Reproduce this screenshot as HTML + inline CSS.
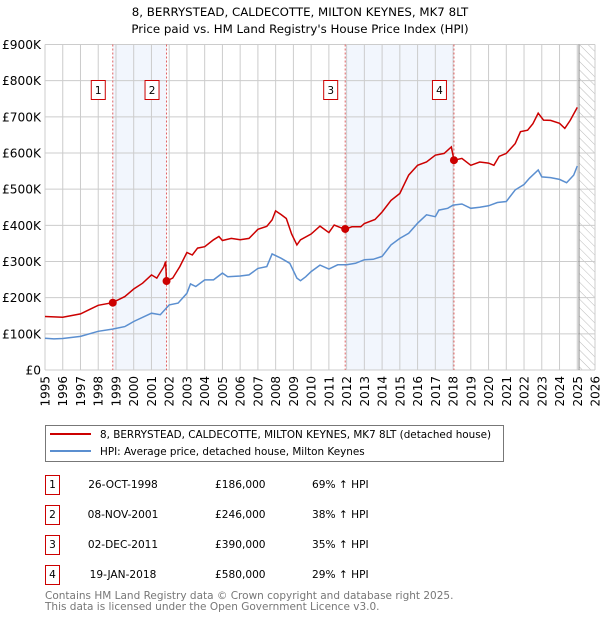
<!DOCTYPE html>
<html><head><meta charset="utf-8"><style>
body{margin:0;background:#fff;font-family:"Liberation Sans","DejaVu Sans",sans-serif;}
svg text{font-family:"DejaVu Sans","Liberation Sans",sans-serif;}
</style></head><body>
<svg id="c" width="600" height="620" xmlns="http://www.w3.org/2000/svg">
<defs><pattern id="hatch" width="6" height="6" patternUnits="userSpaceOnUse" patternTransform="rotate(-45)"><line x1="0" y1="0" x2="0" y2="6" stroke="#bbb" stroke-width="1"/></pattern></defs>
<text x="300" y="16" text-anchor="middle" font-size="11.8">8, BERRYSTEAD, CALDECOTTE, MILTON KEYNES, MK7 8LT</text>
<text x="300" y="33" text-anchor="middle" font-size="11.8">Price paid vs. HM Land Registry's House Price Index (HPI)</text>
<g id="grid"></g><g id="marks"></g><g id="axes"></g>
<g>
<rect x="45.5" y="425.5" width="458" height="36" fill="#fff" stroke="#777"/>
<line x1="50" y1="434" x2="91" y2="434" stroke="#cc0000" stroke-width="2"/>
<text x="100" y="438" font-size="10.4">8, BERRYSTEAD, CALDECOTTE, MILTON KEYNES, MK7 8LT (detached house)</text>
<line x1="50" y1="451" x2="91" y2="451" stroke="#5b8fd0" stroke-width="2"/>
<text x="100" y="455" font-size="10.4">HPI: Average price, detached house, Milton Keynes</text>
</g>
<g id="table" font-size="10.6"></g>
<text x="45" y="599" font-size="10.5" fill="#777">Contains HM Land Registry data © Crown copyright and database right 2025.</text>
<text x="45" y="610" font-size="10.5" fill="#777">This data is licensed under the Open Government Licence v3.0.</text>
</svg>
<script>
const yTicks=[0,100,200,300,400,500,600,700,800,900];
const yLabels=["£0","£100K","£200K","£300K","£400K","£500K","£600K","£700K","£800K","£900K"];
const xYears=[1995,1996,1997,1998,1999,2000,2001,2002,2003,2004,2005,2006,2007,2008,2009,2010,2011,2012,2013,2014,2015,2016,2017,2018,2019,2020,2021,2022,2023,2024,2025,2026];
const hpiT=[1995,1995.5,1996,1997,1998,1998.8,1999.5,2000,2001,2001.5,2002,2002.5,2003,2003.2,2003.5,2004,2004.5,2005,2005.3,2006,2006.5,2007,2007.5,2007.8,2008.3,2008.8,2009.2,2009.4,2009.7,2010,2010.5,2011,2011.5,2012,2012.5,2013,2013.5,2014,2014.5,2015,2015.5,2016,2016.5,2017,2017.2,2017.7,2018,2018.5,2019,2019.5,2020,2020.5,2021,2021.5,2022,2022.3,2022.8,2023,2023.5,2024,2024.4,2024.8,2025];
const hpiV=[88,86,87,93,107,113,120,134,157,153,180,185,212,238,231,249,249,268,258,260,263,281,286,321,309,295,254,247,258,272,290,279,291,291,295,305,306,314,346,364,378,406,429,424,442,447,456,459,447,450,454,463,466,498,513,530,553,534,532,527,518,539,564];
const ppT=[1995,1996,1997,1997.5,1998,1998.8,1999.5,2000,2000.5,2001,2001.3,2001.7,2001.8,2001.85,2002.2,2002.6,2003,2003.3,2003.6,2004,2004.5,2004.8,2005,2005.5,2006,2006.5,2007,2007.5,2007.8,2008,2008.3,2008.6,2008.9,2009.2,2009.4,2010,2010.5,2011,2011.3,2011.9,2012.3,2012.8,2013,2013.6,2014,2014.5,2015,2015.5,2016,2016.5,2017,2017.5,2017.9,2018.05,2018.5,2019,2019.5,2020,2020.3,2020.6,2021,2021.5,2021.8,2022.2,2022.5,2022.8,2023.1,2023.5,2024,2024.3,2024.6,2025];
const ppV=[148,146,155,167,179,186,203,224,240,263,254,286,300,246,254,286,325,318,337,341,360,369,358,364,360,364,389,397,415,440,430,419,376,346,360,376,398,380,401,389,396,396,405,416,437,469,488,539,566,575,594,599,617,580,585,566,575,572,566,591,599,626,659,663,681,710,691,690,682,668,690,726];
const saleT=[1998.82,2001.85,2011.92,2018.05];
const saleV=[186,246,390,580];
const saleDates=["26-OCT-1998","08-NOV-2001","02-DEC-2011","19-JAN-2018"];
const salePrices=["£186,000","£246,000","£390,000","£580,000"];
const salePct=["69% ↑ HPI","38% ↑ HPI","35% ↑ HPI","29% ↑ HPI"];

const NS="http://www.w3.org/2000/svg";
const L=45,R=595,T=44.5,B=370;
const x=t=>L+(t-1995)/(2026-1995)*(R-L);
const y=v=>B-v/900*(B-T);
function mk(tag,attrs,parent){const e=document.createElementNS(NS,tag);for(const k in attrs)e.setAttribute(k,attrs[k]);parent.appendChild(e);return e;}
const grid=document.getElementById('grid'),marks=document.getElementById('marks'),axes=document.getElementById('axes');
for(const [a,b] of [[0,1],[2,3]]){const r=mk('rect',{x:x(saleT[a]),y:T,width:x(saleT[b])-x(saleT[a]),height:B-T,fill:'#eef3fc',opacity:0.75},grid);

}
const hr=mk('rect',{x:x(2025.1),y:T,width:R-x(2025.1),height:B-T,fill:'url(#hatch)'},grid);


xYears.forEach(yr=>{mk('line',{x1:x(yr),x2:x(yr),y1:T,y2:B,stroke:'#ccc','stroke-width':1},grid);
const tx=mk('text',{x:0,y:0,'font-size':12,'text-anchor':'end',transform:`translate(${x(yr)+4.5},${B+6}) rotate(-90)`},axes);
tx.textContent=yr;

});
yTicks.forEach((v,i)=>{mk('line',{x1:L,x2:R,y1:y(v),y2:y(v),stroke:'#ccc','stroke-width':1},grid);
const tx=mk('text',{x:L-4,y:y(v)+4.5,'font-size':12.2,'text-anchor':'end'},axes);
tx.textContent=yLabels[i];

});
mk('line',{x1:x(2025.1),x2:x(2025.1),y1:T,y2:B,stroke:'#888','stroke-width':1},grid);
saleT.forEach((t,i)=>{const l=mk('line',{x1:x(t),x2:x(t),y1:T,y2:B,stroke:'#e06060','stroke-width':1,'stroke-dasharray':'2,2'},marks);


const g=mk('g',{},marks);


mk('rect',{x:x(t)-21.5,y:80.5,width:14,height:19,fill:'#fff',stroke:'#cc0000'},g);
const tt=mk('text',{x:x(t)-14.5,y:94,'font-size':10.5,'text-anchor':'middle'},g);tt.textContent=i+1;});
const pts=(ts,vs)=>ts.map((t,i)=>x(t).toFixed(1)+','+y(vs[i]).toFixed(1)).join(' ');
const hl=mk('polyline',{points:pts(hpiT,hpiV),fill:'none',stroke:'#5b8fd0','stroke-width':1.5},marks);


const pl=mk('polyline',{points:pts(ppT,ppV),fill:'none',stroke:'#cc0000','stroke-width':1.5},marks);


saleT.forEach((t,i)=>{const c=mk('circle',{cx:x(t),cy:y(saleV[i]),r:4,fill:'#cc0000'},marks);

});
const tb=document.getElementById('table');
saleT.forEach((t,i)=>{const yy=475+i*30;
const g=mk('g',{},tb);


mk('rect',{x:45.5,y:yy+0.5,width:14,height:19,fill:'#fff',stroke:'#cc0000'},g);
const a=mk('text',{x:52.5,y:yy+13,'text-anchor':'middle'},g);a.textContent=i+1;
const b=mk('text',{x:123,y:yy+13,'text-anchor':'middle'},g);b.textContent=saleDates[i];
const c=mk('text',{x:215,y:yy+13},g);c.textContent=salePrices[i];
const d=mk('text',{x:312,y:yy+13},g);d.textContent=salePct[i];});
</script>
</body></html>
